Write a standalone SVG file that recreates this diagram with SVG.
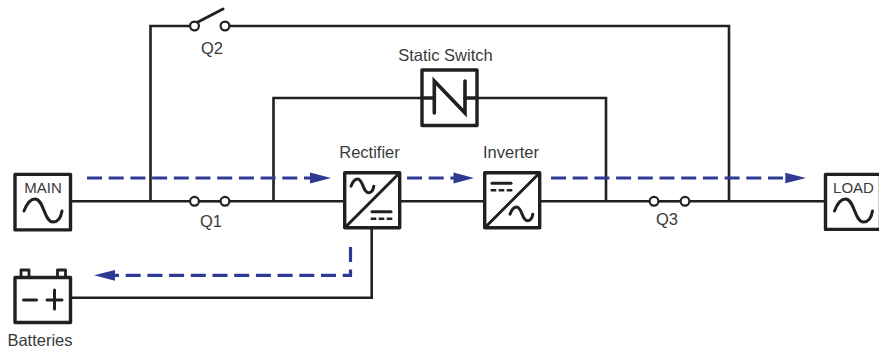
<svg xmlns="http://www.w3.org/2000/svg" width="879" height="350" viewBox="0 0 879 350">
<style>
.w{fill:none;stroke:#231f20;stroke-width:2.6}
.b{fill:#fff;stroke:#231f20;stroke-width:3.4;stroke-linejoin:round}
.g{fill:none;stroke:#231f20;stroke-width:3;stroke-linecap:round}
.d{fill:none;stroke:#231f20;stroke-width:2.6;stroke-dasharray:5.6 2.4}
.c{fill:#fff;stroke:#231f20;stroke-width:2.2}
.f{fill:none;stroke:#2e3a94;stroke-width:3.2;stroke-dasharray:15 6.7}
.a{fill:#2e3a94}
text{font-family:"Liberation Sans",Arial,sans-serif;font-size:16.500px;fill:#3a3a3a;text-anchor:middle}
text.s{font-size:15px}
</style>
<defs>
<path id="sine" d="M0 12C3 4 7 0 11 0C20 0 20 23 29 23C34 23 37 18 38 12" fill="none" stroke="#231f20" stroke-width="3" stroke-linecap="round" vector-effect="non-scaling-stroke"/>
</defs>
<g id="connectors">
<path class="w" d="M72 201.300H190M230 201.300H343M401 201.300H483M541 201.300H650M690 201.300H825"/>
<path class="w" d="M150.500 201.300V26H190M230 26H729V201.300"/>
<path class="w" d="M273.500 201.300V98H422M478 98H606V201.300"/>
<path class="w" d="M72 297.700H371.700V229"/>
<path class="f" d="M87 178H318"/><path class="a" d="M310 172.500L331 178L310 183.500Z"/>
<path class="f" d="M407 178H456"/><path class="a" d="M453.500 172.500L474 178L453.500 183.500Z"/>
<path class="f" d="M551 178H792"/><path class="a" d="M785.300 172.800L806 178L785.300 183.200Z"/>
<path class="f" d="M350.500 247V266.500" stroke-dasharray="none"/>
<path class="f" stroke-dashoffset="1.400" d="M350.500 269.500V275.300H110"/><path class="a" d="M115 270L94 275.300L115 280.700Z"/>
</g>
<g id="main"><rect class="b" x="15" y="174.400" width="55.500" height="55.500"/><use href="#sine" x="24" y="199"/><text class="s" x="43" y="193">MAIN</text></g>
<g id="q1"><path class="w" stroke-width="3.400" d="M194.500 201.300H225"/><circle class="c" cx="194.500" cy="201.300" r="4.400"/><circle class="c" cx="225" cy="201.300" r="4.400"/><text x="211" y="226.700">Q1</text></g>
<g id="q2"><path class="g" d="M197 22.500L223 9"/><circle class="c" cx="194.500" cy="26" r="4.400"/><circle class="c" cx="225" cy="26" r="4.400"/><text x="212" y="54">Q2</text></g>
<g id="q3"><path class="w" stroke-width="3.400" d="M654 201.300H685"/><circle class="c" cx="654" cy="201.300" r="4.400"/><circle class="c" cx="685" cy="201.300" r="4.400"/><text x="667" y="225">Q3</text></g>
<g id="static-switch"><rect class="b" x="422" y="70" width="55" height="55.500"/><path class="g" style="stroke-width:3.400" d="M434.300 98H424M465 98H476"/><path class="g" style="stroke-width:3.600" d="M434.300 113V81L465 113V81"/><text x="445.500" y="61">Static Switch</text></g>
<g id="rectifier"><rect class="b" x="344.700" y="172.700" width="55" height="55"/><path class="g" d="M346 226.500L398.500 174"/><use href="#sine" transform="translate(351 179) scale(.6)"/><path class="g" d="M372 211.700H391"/><path class="d" d="M370.700 218.700H392.300"/><text x="369.500" y="158">Rectifier</text></g>
<g id="inverter"><rect class="b" x="484.700" y="172.700" width="55" height="55"/><path class="g" d="M486 226.500L538.500 174"/><use href="#sine" transform="translate(510 207) scale(.6)"/><path class="g" d="M492 183.300H511"/><path class="d" d="M490.700 190.300H512.300"/><text x="511" y="158">Inverter</text></g>
<g id="load"><rect class="b" x="825.500" y="174.400" width="55" height="55"/><use href="#sine" x="834.500" y="199"/><text class="s" x="853.500" y="193">LOAD</text></g>
<g id="batteries"><rect class="b" style="stroke-width:2.800" x="21" y="270" width="8" height="8"/><rect class="b" style="stroke-width:2.800" x="57.500" y="270" width="8" height="8"/><rect class="b" x="15" y="277.500" width="55.500" height="45"/><path class="g" d="M23.500 300H36.500M47 300H62M54.500 290V309"/><text x="40" y="345.700">Batteries</text></g>
</svg>
